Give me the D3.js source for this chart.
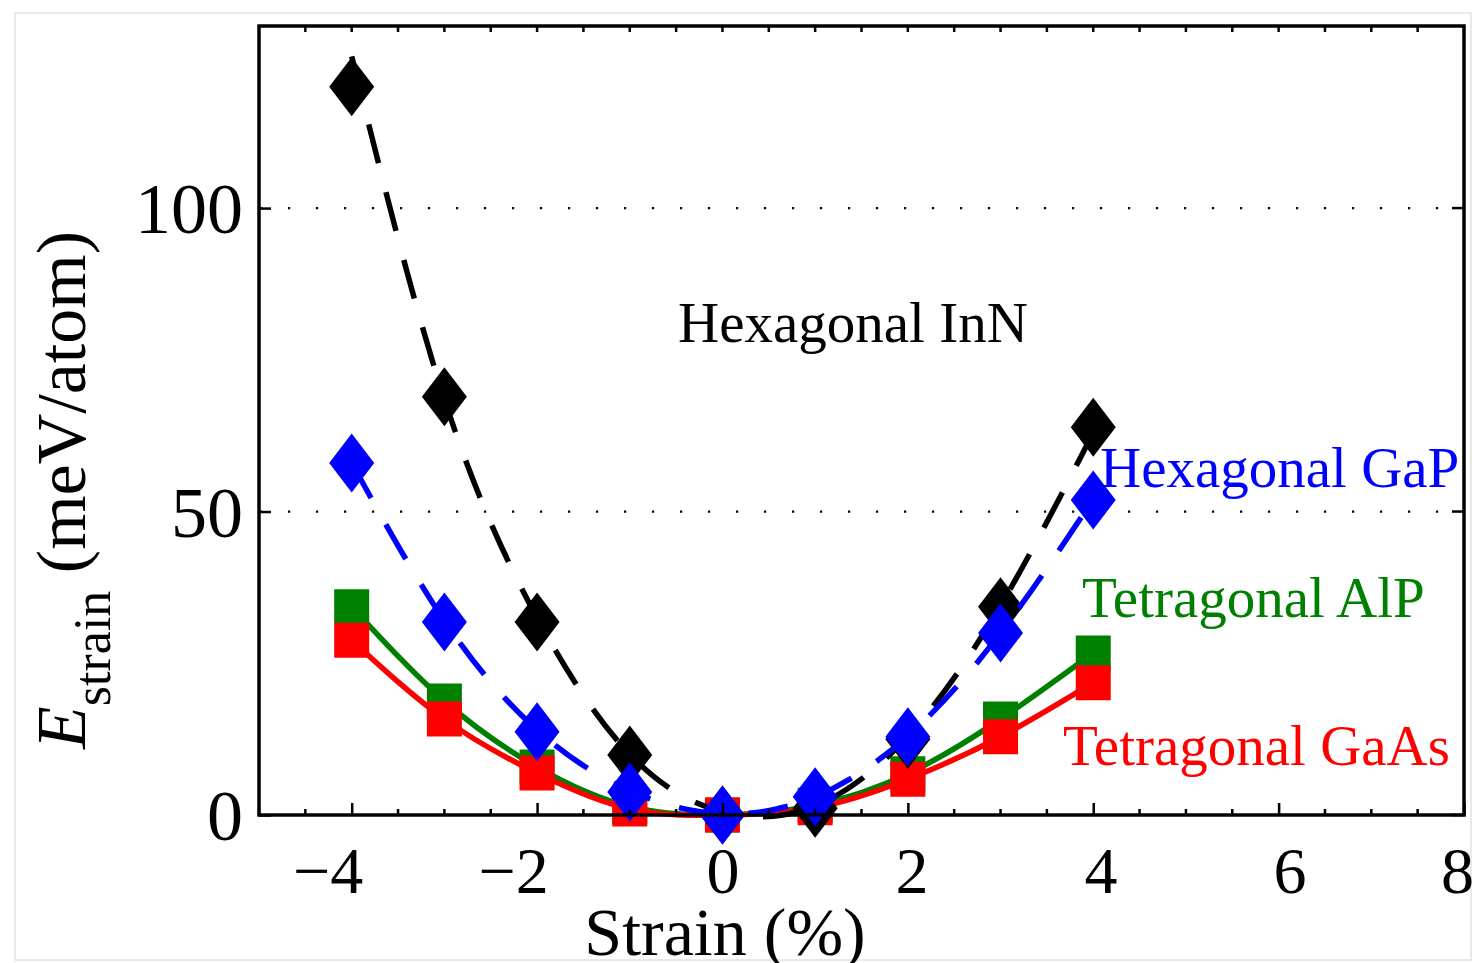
<!DOCTYPE html>
<html><head><meta charset="utf-8">
<script src="https://cdn.jsdelivr.net/npm/d3@7"></script>
<style>body{margin:0;background:#fff;overflow:hidden}</style>
</head><body><svg id="c" width="1474" height="963"></svg>
<script>
// ---- data ----
const strain = [-4, -3, -2, -1, 0, 1, 2, 3, 4];
// markers (meV/atom)
const inN  = [120.0, 68.9, 31.8, 9.9, 0, 1.1, 12.5, 34.3, 63.9];
const gaP  = [58.0, 31.8, 13.7, 3.8, 0, 3.0, 12.9, 30.0, 51.9];
const alP  = [34.3, 18.8, 7.9, 1.4, 0, 1.6, 6.8, 15.8, 26.7];
const gaAs = [28.8, 15.8, 6.9, 1.0, 0, 1.2, 5.9, 12.9, 21.8];
// fitted curves (read at the same strains)
const inNFit  = [125.0, 68.5, 32.5, 10.0, 0.5, 1.5, 13.0, 34.5, 63.0];
const gaPFit  = [58.0, 32.0, 14.0, 4.0, 0.2, 3.0, 13.0, 30.0, 52.0];
const alPFit  = [34.3, 18.8, 7.9, 1.4, 0, 1.6, 6.8, 15.8, 26.7];
const gaAsFit = [28.8, 15.8, 6.9, 1.0, 0, 1.2, 5.9, 12.9, 21.8];
const xMajorTicks = [-4, -2, 0, 2, 4, 6, 8];
const yTicks = [0, 50, 100];
const gridValues = [50, 100];
const labels = ["Hexagonal InN", "Hexagonal GaP", "Tetragonal AlP", "Tetragonal GaAs"];

(function () {
const pL = 259, pR = 1464, pT = 26, pB = 815;
const x = d3.scaleLinear().domain([-5, 8]).range([pL, pR]);
const y = d3.scaleLinear().domain([0, 130]).range([pB, pT]);
const svg = d3.select("#c");
const FONT = "'Liberation Serif','Times New Roman',serif";

// faint outer border of the figure image
svg.append("rect").attr("x", 15).attr("y", 13).attr("width", 1456).attr("height", 947)
  .attr("fill", "none").attr("stroke", "#e2e2e2").attr("stroke-width", 1.5);

// gridlines (dotted)
svg.append("g").selectAll("line").data(gridValues).join("line")
  .attr("x1", pL + 1).attr("x2", pR).attr("y1", d => y(d)).attr("y2", d => y(d))
  .attr("stroke", "#000").attr("stroke-width", 2.2).attr("stroke-dasharray", "2.2,25.8");

// series
const series = [
  {vals: alP,  fit: alPFit,  color: "#008000", marker: "square", dash: null},
  {vals: gaAs, fit: gaAsFit, color: "#ff0000", marker: "square", dash: null},
  {vals: inN,  fit: inNFit,  color: "#000000", marker: "diamond", dash: "40,30"},
  {vals: gaP,  fit: gaPFit,  color: "#0000ff", marker: "diamond", dash: "40,30"}
];
const line = d3.line().x(d => x(d[0])).y(d => y(d[1])).curve(d3.curveNatural);
const diamond = "M0,-29.5L22.5,0L0,29.5L-22.5,0Z";
const square = "M-17.5,-17.5H17.5V17.5H-17.5Z";
series.forEach(s => {
  const g = svg.append("g");
  g.selectAll("path.m").data(strain.map((v, i) => [v, s.vals[i]])).join("path")
    .attr("class", "m")
    .attr("d", s.marker === "diamond" ? diamond : square)
    .attr("transform", d => `translate(${x(d[0])},${y(d[1])})`)
    .attr("fill", s.color);
  g.append("path").datum(strain.map((v, i) => [v, s.fit[i]]))
    .attr("d", line).attr("fill", "none").attr("stroke", s.color)
    .attr("stroke-width", 5.5)
    .attr("stroke-dasharray", s.dash);
});

// frame
svg.append("rect").attr("x", pL).attr("y", pT).attr("width", pR - pL).attr("height", pB - pT)
  .attr("fill", "none").attr("stroke", "#000").attr("stroke-width", 3.5);

// minor ticks (bottom) and all top ticks
const minor = d3.range(-5, 8.01, 0.5).filter(v => !xMajorTicks.includes(v));
const tickG = svg.append("g").attr("stroke", "#000").attr("stroke-width", 2.5);
minor.forEach(v => {
  tickG.append("line").attr("x1", x(v)).attr("x2", x(v)).attr("y1", pB).attr("y2", pB - 6);
});
d3.range(-4.5, 8, 0.5).forEach(v => {
  tickG.append("line").attr("x1", x(v)).attr("x2", x(v)).attr("y1", pT).attr("y2", pT + 6);
});

// x axis
const xAxis = svg.append("g").attr("transform", `translate(0,${pB})`)
  .call(d3.axisBottom(x).tickValues(xMajorTicks).tickSize(-12).tickFormat(d3.format("d")));
xAxis.select(".domain").remove();
xAxis.selectAll(".tick line").attr("stroke-width", 2.5);
xAxis.selectAll("text").attr("y", 78).attr("dy", 0)
  .attr("x", d => d < 0 ? -24 : (d === 8 ? -7 : d * 1.8))
  .attr("font-family", FONT).attr("font-size", 66).attr("fill", "#000");

// y axis
const yAxis = svg.append("g").attr("transform", `translate(${pL},0)`)
  .call(d3.axisLeft(y).tickValues(yTicks).tickSize(-12).tickPadding(16).tickFormat(d3.format("d")));
yAxis.select(".domain").remove();
yAxis.selectAll(".tick line").attr("stroke-width", 2.5);
yAxis.selectAll("text").attr("dy", "0.34em")
  .attr("font-family", FONT).attr("font-size", 72).attr("fill", "#000");
svg.append("g").selectAll("line").data(yTicks).join("line")
  .attr("x1", pR).attr("x2", pR - 12).attr("y1", d => y(d)).attr("y2", d => y(d))
  .attr("stroke", "#000").attr("stroke-width", 2.5);

// axis titles
svg.append("text").attr("x", 725).attr("y", 955).attr("text-anchor", "middle")
  .attr("font-family", FONT).attr("font-size", 68).text("Strain (%)");
const yl = svg.append("text").attr("transform", "translate(85,490) rotate(-90)")
  .attr("text-anchor", "middle").attr("font-family", FONT).attr("font-size", 70);
yl.append("tspan").attr("font-style", "italic").text("E");
yl.append("tspan").attr("font-size", 52).attr("dy", 25).text("strain");
yl.append("tspan").attr("dy", -25).text(" (meV/atom)");

// annotations
const ann = [
  {t: labels[0], x: 678, y: 342, c: "#000"},
  {t: labels[1], x: 1100, y: 487, c: "#0000ff"},
  {t: labels[2], x: 1082, y: 617, c: "#008000"},
  {t: labels[3], x: 1063, y: 765, c: "#ff0000"}
];
svg.append("g").selectAll("text").data(ann).join("text")
  .attr("x", d => d.x).attr("y", d => d.y).attr("fill", d => d.c)
  .attr("font-family", FONT).attr("font-size", 57).text(d => d.t);
})();
</script>
</body></html>
